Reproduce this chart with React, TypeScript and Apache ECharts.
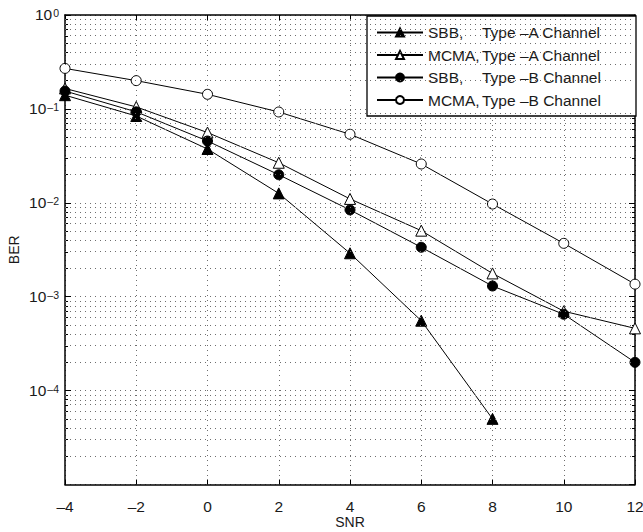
import React, { useEffect, useRef } from "react";
import * as echarts from "echarts";

// ---- data ----
const snr = [-4, -2, 0, 2, 4, 6, 8, 10, 12];
const sbbTypeA = [0.14, 0.084, 0.0374, 0.0126, 0.0029, 0.000555, 0.00005];
const mcmaTypeA = [0.165, 0.105, 0.056, 0.0267, 0.011, 0.00505, 0.00177, 0.0007, 0.00046];
const sbbTypeB = [0.155, 0.093, 0.0455, 0.0199, 0.0084, 0.00336, 0.0013, 0.00065, 0.0002];
const mcmaTypeB = [0.27, 0.2, 0.143, 0.0927, 0.0537, 0.0259, 0.0097, 0.0037, 0.00136];
const seriesNames = [
  "SBB, Type –A Channel",
  "MCMA, Type –A Channel",
  "SBB, Type –B Channel",
  "MCMA, Type –B Channel",
];
const xMin = -4;
const xMax = 12;
const xStep = 2;
const decadeExponents = [-5, -4, -3, -2, -1];
const minorMultipliers = [2, 3, 4, 5, 6, 7, 8, 9];
const yMinExp = -5;
const yMaxExp = 0;

const FONT = "Liberation Sans";
const TEXT = "#1a1a1a";
const GRID_DOT = "#6e6e6e";

const minorLogs: number[] = [];
decadeExponents.forEach((k) => minorMultipliers.forEach((m) => minorLogs.push(k + Math.log10(m))));

const toPoints = (vals: number[]) => vals.map((v, i) => [snr[i], Math.log10(v)]);

const fmtNum = (v: number) => (v < 0 ? "–" + Math.abs(v) : String(v));

export default function App() {
  const ref = useRef<HTMLDivElement>(null);
  useEffect(() => {
    if (!ref.current) return;
    const chart = echarts.init(ref.current, undefined, { renderer: "svg" });
    const gridPos = { left: 65, top: 15, width: 570, height: 469.5, containLabel: false, outerBoundsMode: "none" };
    const axisLine = { show: true, onZero: false, lineStyle: { color: "#000", width: 1.5 } };
    const dotted = { color: GRID_DOT, width: 1, type: [1, 4] as any };

    const mk = (name: string, vals: number[], symbol: string, filled: boolean, size: number) => ({
      name,
      type: "line",
      data: toPoints(vals),
      symbol,
      symbolSize: size,
      showSymbol: true,
      z: 3,
      lineStyle: { color: "#000", width: 1 },
      itemStyle: filled
        ? { color: "#000", borderColor: "#000", borderWidth: 1 }
        : { color: "#fff", borderColor: "#000", borderWidth: 1 },
      emphasis: { disabled: true },
    });

    const option: any = {
      animation: false,
      grid: gridPos,
      xAxis: [
        {
          type: "value",
          min: xMin,
          max: xMax,
          interval: xStep,
          position: "bottom",
          axisLine,
          axisTick: { show: true, inside: true, length: 5, lineStyle: { color: "#000", width: 1 } },
          axisLabel: {
            margin: 14,
            fontFamily: FONT,
            fontSize: 15.5,
            color: TEXT,
            formatter: (v: number) => fmtNum(v),
          },
          splitLine: { show: true, lineStyle: dotted },
          name: "SNR",
          nameLocation: "middle",
          nameGap: 30,
          nameMoveOverlap: false,
          nameTextStyle: { fontFamily: FONT, fontSize: 14, color: TEXT, lineHeight: 15 },
        },
        {
          type: "value",
          min: xMin,
          max: xMax,
          interval: xStep,
          position: "top",
          axisLine,
          axisTick: { show: true, inside: true, length: 5, lineStyle: { color: "#000", width: 1 } },
          axisLabel: { show: false },
          splitLine: { show: false },
        },
      ],
      yAxis: [
        {
          type: "value",
          min: yMinExp,
          max: yMaxExp,
          interval: 1,
          position: "left",
          axisLine,
          axisTick: { show: true, inside: true, length: 6, lineStyle: { color: "#000", width: 1 } },
          axisLabel: {
            showMinLabel: false,
            margin: 6,
            color: TEXT,
            formatter: (v: number) => `{b|10}{s|${fmtNum(v)}}`,
            rich: {
              b: { fontFamily: FONT, fontSize: 15.5, color: TEXT, lineHeight: 15, verticalAlign: "bottom", padding: [7, 0, 0, 0] },
              s: { fontFamily: FONT, fontSize: 10.5, color: TEXT, lineHeight: 9, verticalAlign: "top", padding: [0, 0, 0, 1] },
            },
          },
          splitLine: { show: true, lineStyle: dotted },
          name: "BER",
          nameLocation: "middle",
          nameGap: 44,
          nameRotate: 90,
          nameMoveOverlap: false,
          nameTextStyle: { fontFamily: FONT, fontSize: 14, color: TEXT },
        },
        {
          type: "value",
          min: yMinExp,
          max: yMaxExp,
          interval: 1,
          position: "right",
          axisLine,
          axisTick: { show: true, inside: true, length: 6, lineStyle: { color: "#000", width: 1 } },
          axisLabel: { show: false },
          splitLine: { show: false },
        },
        {
          type: "value",
          min: yMinExp,
          max: yMaxExp,
          position: "left",
          axisLine: { show: false, onZero: false },
          axisTick: { show: true, inside: true, length: 3, customValues: minorLogs, lineStyle: { color: "#000", width: 1 } },
          axisLabel: { show: false },
          splitLine: { show: false },
        },
        {
          type: "value",
          min: yMinExp,
          max: yMaxExp,
          position: "right",
          axisLine: { show: false, onZero: false },
          axisTick: { show: true, inside: true, length: 3, customValues: minorLogs, lineStyle: { color: "#000", width: 1 } },
          axisLabel: { show: false },
          splitLine: { show: false },
        },
      ],
      legend: {
        orient: "vertical",
        left: 367,
        top: 16,
        data: seriesNames,
        backgroundColor: "#fff",
        borderColor: "#000",
        borderWidth: 1.3,
        borderRadius: 0,
        padding: [8.5, 3, 8, 9],
        itemWidth: 46,
        itemHeight: 10,
        itemGap: 6.5,
        selectedMode: false,
        textStyle: {
          fontFamily: FONT,
          fontSize: 15.5,
          color: TEXT,
          rich: {
            a: { fontFamily: FONT, fontSize: 15.5, color: TEXT, width: 54, lineHeight: 16 },
            b: { fontFamily: FONT, fontSize: 15.5, color: TEXT, width: 151, lineHeight: 16 },
          },
        },
        formatter: (name: string) => {
          const i = name.indexOf(", ");
          return `{a|${name.slice(0, i + 1)}}{b|${name.slice(i + 2)}}`;
        },
      },
      series: [
        {
          name: "minor-grid",
          type: "line",
          data: [],
          z: 1,
          silent: true,
          markLine: {
            silent: true,
            symbol: ["none", "none"],
            label: { show: false },
            lineStyle: dotted,
            emphasis: { disabled: true },
            data: minorLogs.map((v) => ({ yAxis: v })),
          },
        },
        mk(seriesNames[0], sbbTypeA, "triangle", true, 11),
        mk(seriesNames[1], mcmaTypeA, "triangle", false, 11),
        mk(seriesNames[2], sbbTypeB, "circle", true, 10),
        mk(seriesNames[3], mcmaTypeB, "circle", false, 10),
      ],
    };
    chart.setOption(option);
    return () => chart.dispose();
  }, []);
  return (
    <div
      ref={ref}
      style={{ position: "absolute", left: 0, top: 0, width: 643, height: 532, background: "#fff" }}
    />
  );
}
